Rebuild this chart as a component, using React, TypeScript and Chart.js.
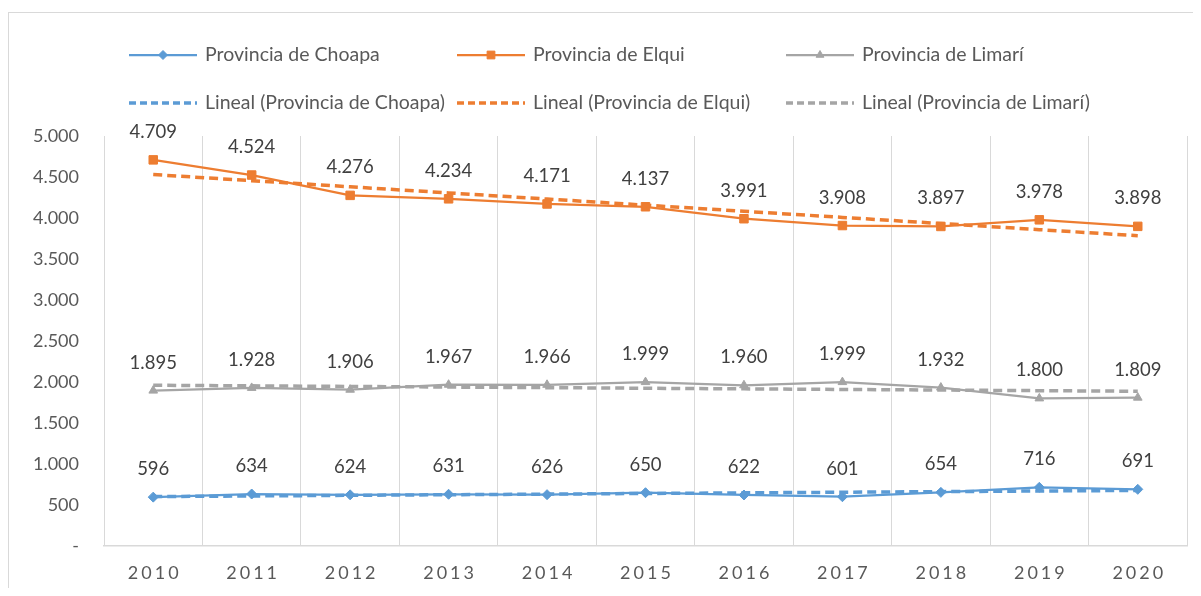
import React, { useEffect, useRef } from 'react';
import { Chart, registerables } from 'chart.js';
import { drawPoint } from 'chart.js/helpers';

Chart.register(...registerables);

const years = ['2010', '2011', '2012', '2013', '2014', '2015', '2016', '2017', '2018', '2019', '2020'];
const choapa = [596, 634, 624, 631, 626, 650, 622, 601, 654, 716, 691];
const elqui = [4709, 4524, 4276, 4234, 4171, 4137, 3991, 3908, 3897, 3978, 3898];
const limari = [1895, 1928, 1906, 1967, 1966, 1999, 1960, 1999, 1932, 1800, 1809];
const seriesNames = ['Provincia de Choapa', 'Provincia de Elqui', 'Provincia de Limarí'];
const trendNames = ['Lineal (Provincia de Choapa)', 'Lineal (Provincia de Elqui)', 'Lineal (Provincia de Limarí)'];
const yMin = 0;
const yMax = 5000;
const yStep = 500;

const FONT = 'Lato, "Open Sans", sans-serif';
const colors = ['#5B9BD5', '#ED7D31', '#A5A5A5'];
const markers = ['rectRot', 'rect', 'triangle'];

// Excel "Lineal" trendline = least-squares fit of each series
function linearTrend(values: number[]): number[] {
  const n = values.length;
  const xs = values.map((_, i) => i);
  const mx = xs.reduce((a, b) => a + b, 0) / n;
  const my = values.reduce((a, b) => a + b, 0) / n;
  let num = 0;
  let den = 0;
  xs.forEach((x, i) => {
    num += (x - mx) * (values[i] - my);
    den += (x - mx) * (x - mx);
  });
  const slope = num / den;
  const intercept = my - slope * mx;
  return xs.map((x) => intercept + slope * x);
}

function fmt(v: number): string {
  if (v === 0) return '-';
  return Math.round(v).toString().replace(/\B(?=(\d{3})+(?!\d))/g, '.');
}

const legendPlugin = {
  id: 'gridLegend',
  afterDraw(chart: any) {
    const ctx = chart.ctx;
    const ds = chart.data.datasets;
    const colX = [120, 448, 777];
    const rowY = [42, 90];
    const lineLen = 68;
    ds.forEach((d: any, i: number) => {
      const x0 = colX[i % 3];
      const y = rowY[Math.floor(i / 3)];
      ctx.save();
      ctx.strokeStyle = d.borderColor;
      ctx.lineWidth = d.borderWidth;
      ctx.setLineDash(d.borderDash ? [7, 4] : []);
      ctx.beginPath();
      ctx.moveTo(x0, y);
      ctx.lineTo(x0 + lineLen, y);
      ctx.stroke();
      ctx.setLineDash([]);
      if (d.pointRadius > 0) {
        ctx.fillStyle = d.pointBackgroundColor;
        ctx.strokeStyle = d.pointBorderColor;
        ctx.lineWidth = 1;
        drawPoint(ctx, { pointStyle: d.pointStyle, radius: d.pointRadius - 0.5, rotation: 0, borderWidth: 1 }, x0 + lineLen / 2, y);
      }
      ctx.fillStyle = '#595959';
      ctx.font = `19.5px ${FONT}`;
      ctx.textAlign = 'left';
      ctx.textBaseline = 'middle';
      ctx.fillText(d.label, x0 + lineLen + 8, y);
      ctx.restore();
    });
  },
};

const labelsPlugin = {
  id: 'valueLabels',
  afterDatasetsDraw(chart: any) {
    const ctx = chart.ctx;
    ctx.save();
    ctx.font = `18.5px ${FONT}`;
    ctx.fillStyle = '#404040';
    ctx.textAlign = 'center';
    ctx.textBaseline = 'middle';
    chart.data.datasets.forEach((d: any, i: number) => {
      if (!d.showValues) return;
      const meta = chart.getDatasetMeta(i);
      meta.data.forEach((pt: any, j: number) => {
        ctx.fillText(fmt(d.data[j]), pt.x, pt.y - 28);
      });
    });
    ctx.restore();
  },
  afterDraw(chart: any) {
    const ctx = chart.ctx;
    const xs = chart.scales.x;
    ctx.save();
    ctx.font = `18px ${FONT}`;
    ctx.fillStyle = '#595959';
    ctx.textAlign = 'center';
    ctx.textBaseline = 'middle';
    (ctx as any).letterSpacing = '3px';
    chart.data.labels.forEach((lab: string, i: number) => {
      ctx.fillText(lab, xs.getPixelForTick(i) + 1.5, xs.top + 27);
    });
    ctx.restore();
  },
};

export default function App() {
  const canvasRef = useRef<HTMLCanvasElement | null>(null);

  useEffect(() => {
    if (!canvasRef.current) return;
    const series = [choapa, elqui, limari];
    const mainSets = series.map((vals, i) => ({
      label: seriesNames[i],
      data: vals,
      borderColor: colors[i],
      backgroundColor: colors[i],
      pointBackgroundColor: colors[i],
      pointBorderColor: colors[i],
      borderWidth: 2.25,
      pointStyle: markers[i],
      pointRadius: i === 1 ? 6 : 5,
      pointBorderWidth: 1,
      tension: 0,
      order: 1,
      showValues: true,
    }));
    const trendSets = series.map((vals, i) => ({
      label: trendNames[i],
      data: linearTrend(vals),
      borderColor: colors[i],
      backgroundColor: colors[i],
      borderWidth: 3.5,
      borderDash: [9, 5],
      pointRadius: 0,
      tension: 0,
      order: 0,
      showValues: false,
    }));

    const chart = new Chart(canvasRef.current, {
      type: 'line',
      data: { labels: years, datasets: [...mainSets, ...trendSets] as any },
      options: {
        animation: false,
        responsive: false,
        devicePixelRatio: 1,
        layout: { padding: { top: 123, right: 14, left: 0, bottom: 0 } },
        plugins: {
          legend: { display: false },
          tooltip: { enabled: false },
        },
        scales: {
          x: {
            offset: true,
            grid: { offset: true, color: '#d9d9d9', lineWidth: 1, drawTicks: false },
            border: { display: true, color: '#d9d9d9', width: 1.5 },
            ticks: { color: 'rgba(0,0,0,0)', font: { family: FONT, size: 18 }, padding: 16 },
            afterFit: (s: any) => {
              s.height = 42;
            },
          },
          y: {
            min: yMin,
            max: yMax,
            grid: { display: false, drawTicks: false },
            border: { display: false },
            ticks: {
              stepSize: yStep,
              color: '#595959',
              font: { family: FONT, size: 18 },
              padding: 25,
              callback: (v: any) => fmt(Number(v)),
            },
            afterFit: (s: any) => {
              s.width = 95;
            },
          },
        },
      } as any,
      plugins: [labelsPlugin, legendPlugin],
    });
    return () => chart.destroy();
  }, []);

  return (
    <div
      style={{
        marginTop: 4,
        borderTop: '1px solid #d9d9d9',
        borderLeft: '1px solid #d9d9d9',
        width: 1192,
        height: 575,
        overflow: 'hidden',
      }}
    >
      <canvas ref={canvasRef} width={1192} height={575} style={{ display: 'block' }} />
    </div>
  );
}
